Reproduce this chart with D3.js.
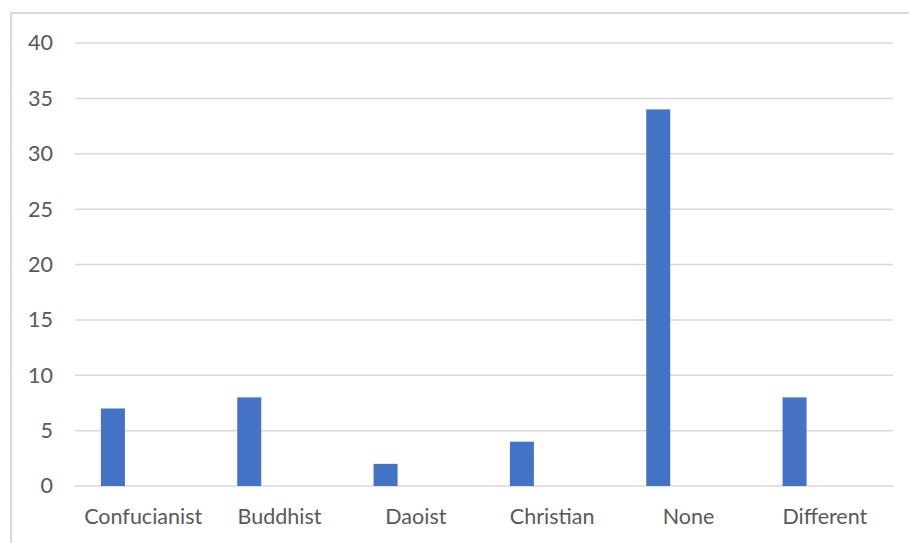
<!DOCTYPE html>
<html><head><meta charset="utf-8">
<script src="https://d3js.org/d3.v7.min.js"></script>
<style>body{margin:0;background:#fff}svg{display:block}</style>
</head><body>
<script>
const categories = ["Confucianist","Buddhist","Daoist","Christian","None","Different"];
const values = [7, 8, 2, 4, 34, 8];
const yTicks = [0,5,10,15,20,25,30,35,40];

const W = 909, H = 543;
const m = {left: 75, right: 16, top: 43, bottom: 57};
const svg = d3.select("body").append("svg").attr("width", W).attr("height", H);

// chart frame (top and left visible)
svg.append("path").attr("d", `M11,${H} V13 H${W}`).attr("fill","none")
  .attr("stroke","#d9d9d9").attr("stroke-width",2);

const x = d3.scaleBand().domain(categories).range([m.left, W - m.right]);
const y = d3.scaleLinear().domain([0, 40]).range([H - m.bottom, m.top]);

const font = "Lato, 'Open Sans', sans-serif";

// gridlines
svg.append("g").selectAll("line").data(yTicks).join("line")
  .attr("x1", m.left).attr("x2", W - m.right)
  .attr("y1", d => y(d)).attr("y2", d => y(d))
  .attr("stroke", "#d9d9d9").attr("stroke-width", 1.5);

// y axis labels
const yAxis = d3.axisLeft(y).tickValues(yTicks).tickSize(0).tickPadding(22);
const gy = svg.append("g").attr("transform", `translate(${m.left},0)`).call(yAxis);
gy.select(".domain").remove();
gy.selectAll("text").attr("fill","#595959").style("font-family", font).style("font-size","21.5px");

// bars
const bw = x.bandwidth() * 0.176;
const off = x.bandwidth() * 0.19;
svg.append("g").selectAll("rect").data(values).join("rect")
  .attr("x", (d,i) => x(categories[i]) + off)
  .attr("width", bw)
  .attr("y", d => y(d))
  .attr("height", d => y(0) - y(d))
  .attr("fill", "#4472c4");

// x axis labels
const xAxis = d3.axisBottom(x).tickSize(0).tickPadding(23);
const gx = svg.append("g").attr("transform", `translate(0,${y(0)})`).call(xAxis);
gx.select(".domain").remove();
gx.selectAll("text").attr("fill","#595959").style("font-family", font).style("font-size","21.5px");
</script>
</body></html>
